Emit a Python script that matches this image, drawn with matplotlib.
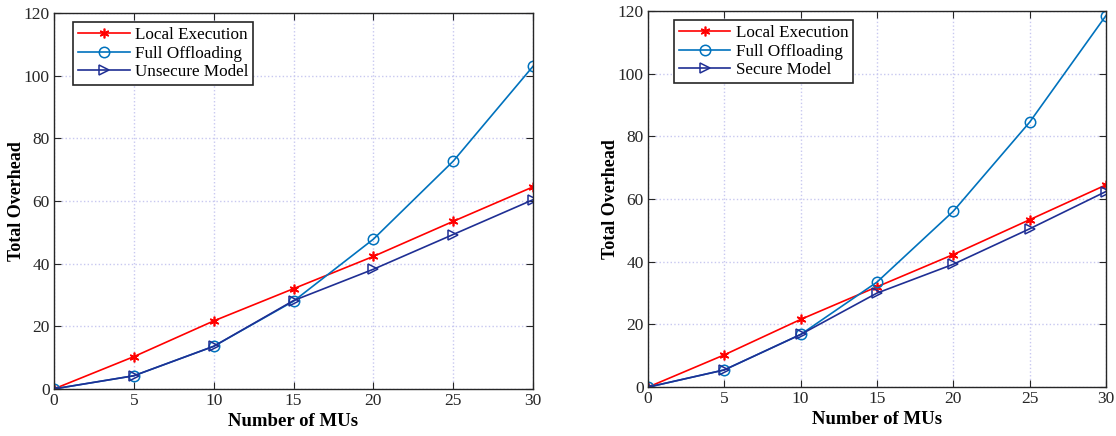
import numpy as np
from matplotlib import pyplot as plt

plt.rcParams['font.family'] = ['Liberation Serif', 'DejaVu Serif']

mus = [0, 5, 10, 15, 20, 25, 30]

# left panel (unsecure)
local_l  = [0, 10.3, 21.7, 32.0, 42.3, 53.5, 64.5]
full_l   = [0, 4.2, 13.6, 28.0, 47.8, 72.7, 103.0]
unsec_l  = [0, 4.2, 13.6, 28.2, 38.2, 49.3, 60.4]

# right panel (secure)
local_r  = [0, 10.3, 21.6, 32.0, 42.3, 53.4, 64.5]
full_r   = [0, 5.5, 16.8, 33.5, 56.1, 84.5, 118.5]
sec_r    = [0, 5.5, 16.8, 30.0, 39.2, 50.5, 62.4]

red  = '#ff0000'
cyan = '#0072bd'
navy = '#1f2f94'

fig = plt.figure(figsize=(11.16, 4.36), dpi=100)
ax1 = fig.add_axes([0.0484, 0.108, 0.4292, 0.862])
ax2 = fig.add_axes([0.5806, 0.112, 0.4104, 0.863])

for ax, loc, full, model, lab, xoff in [[ax1, local_l, full_l, unsec_l, 'Unsecure Model', 0.04],
                                         [ax2, local_r, full_r, sec_r, 'Secure Model', 0.057]]:
    ax.plot(mus, loc, color=red, marker=(6, 2, 0), markersize=7, markeredgewidth=1.2,
            linewidth=1.2, label='Local Execution')
    ax.plot(mus, full, color=cyan, marker='o', markerfacecolor='none', markersize=7.5,
            markeredgewidth=1.1, linewidth=1.2, label='Full Offloading')
    ax.plot(mus, model, color=navy, marker='>', markerfacecolor='none', markersize=7.5,
            markeredgewidth=1.1, linewidth=1.2, label=lab)
    ax.set_xlim(0, 30)
    ax.set_ylim(0, 120)
    ax.set_xticks(range(0, 31, 5))
    ax.set_yticks(range(0, 121, 20))
    ax.grid(True, linestyle=':', color='#c8c8f0', linewidth=1.0)
    ax.tick_params(direction='in', top=True, right=True, labelsize=12.5, length=5, color='#262626',
                   labelcolor='#262626', pad=3)
    for s in ax.spines.values():
        s.set_linewidth(1.0)
        s.set_color('#262626')
    ax.set_xlabel('Number of MUs', fontsize=13.5, fontweight='bold', labelpad=2.5)
    ax.set_ylabel('Total Overhead', fontsize=13, fontweight='bold', labelpad=-1)
    leg = ax.legend(loc='upper left', bbox_to_anchor=(xoff, 0.976), fontsize=12.3, fancybox=False,
                    framealpha=1, edgecolor='#262626', handlelength=3.0, borderpad=0.3,
                    labelspacing=0.15, handletextpad=0.3, borderaxespad=0.0)
    leg.get_frame().set_linewidth(1.2)

fig.savefig('out.png', dpi=100)
